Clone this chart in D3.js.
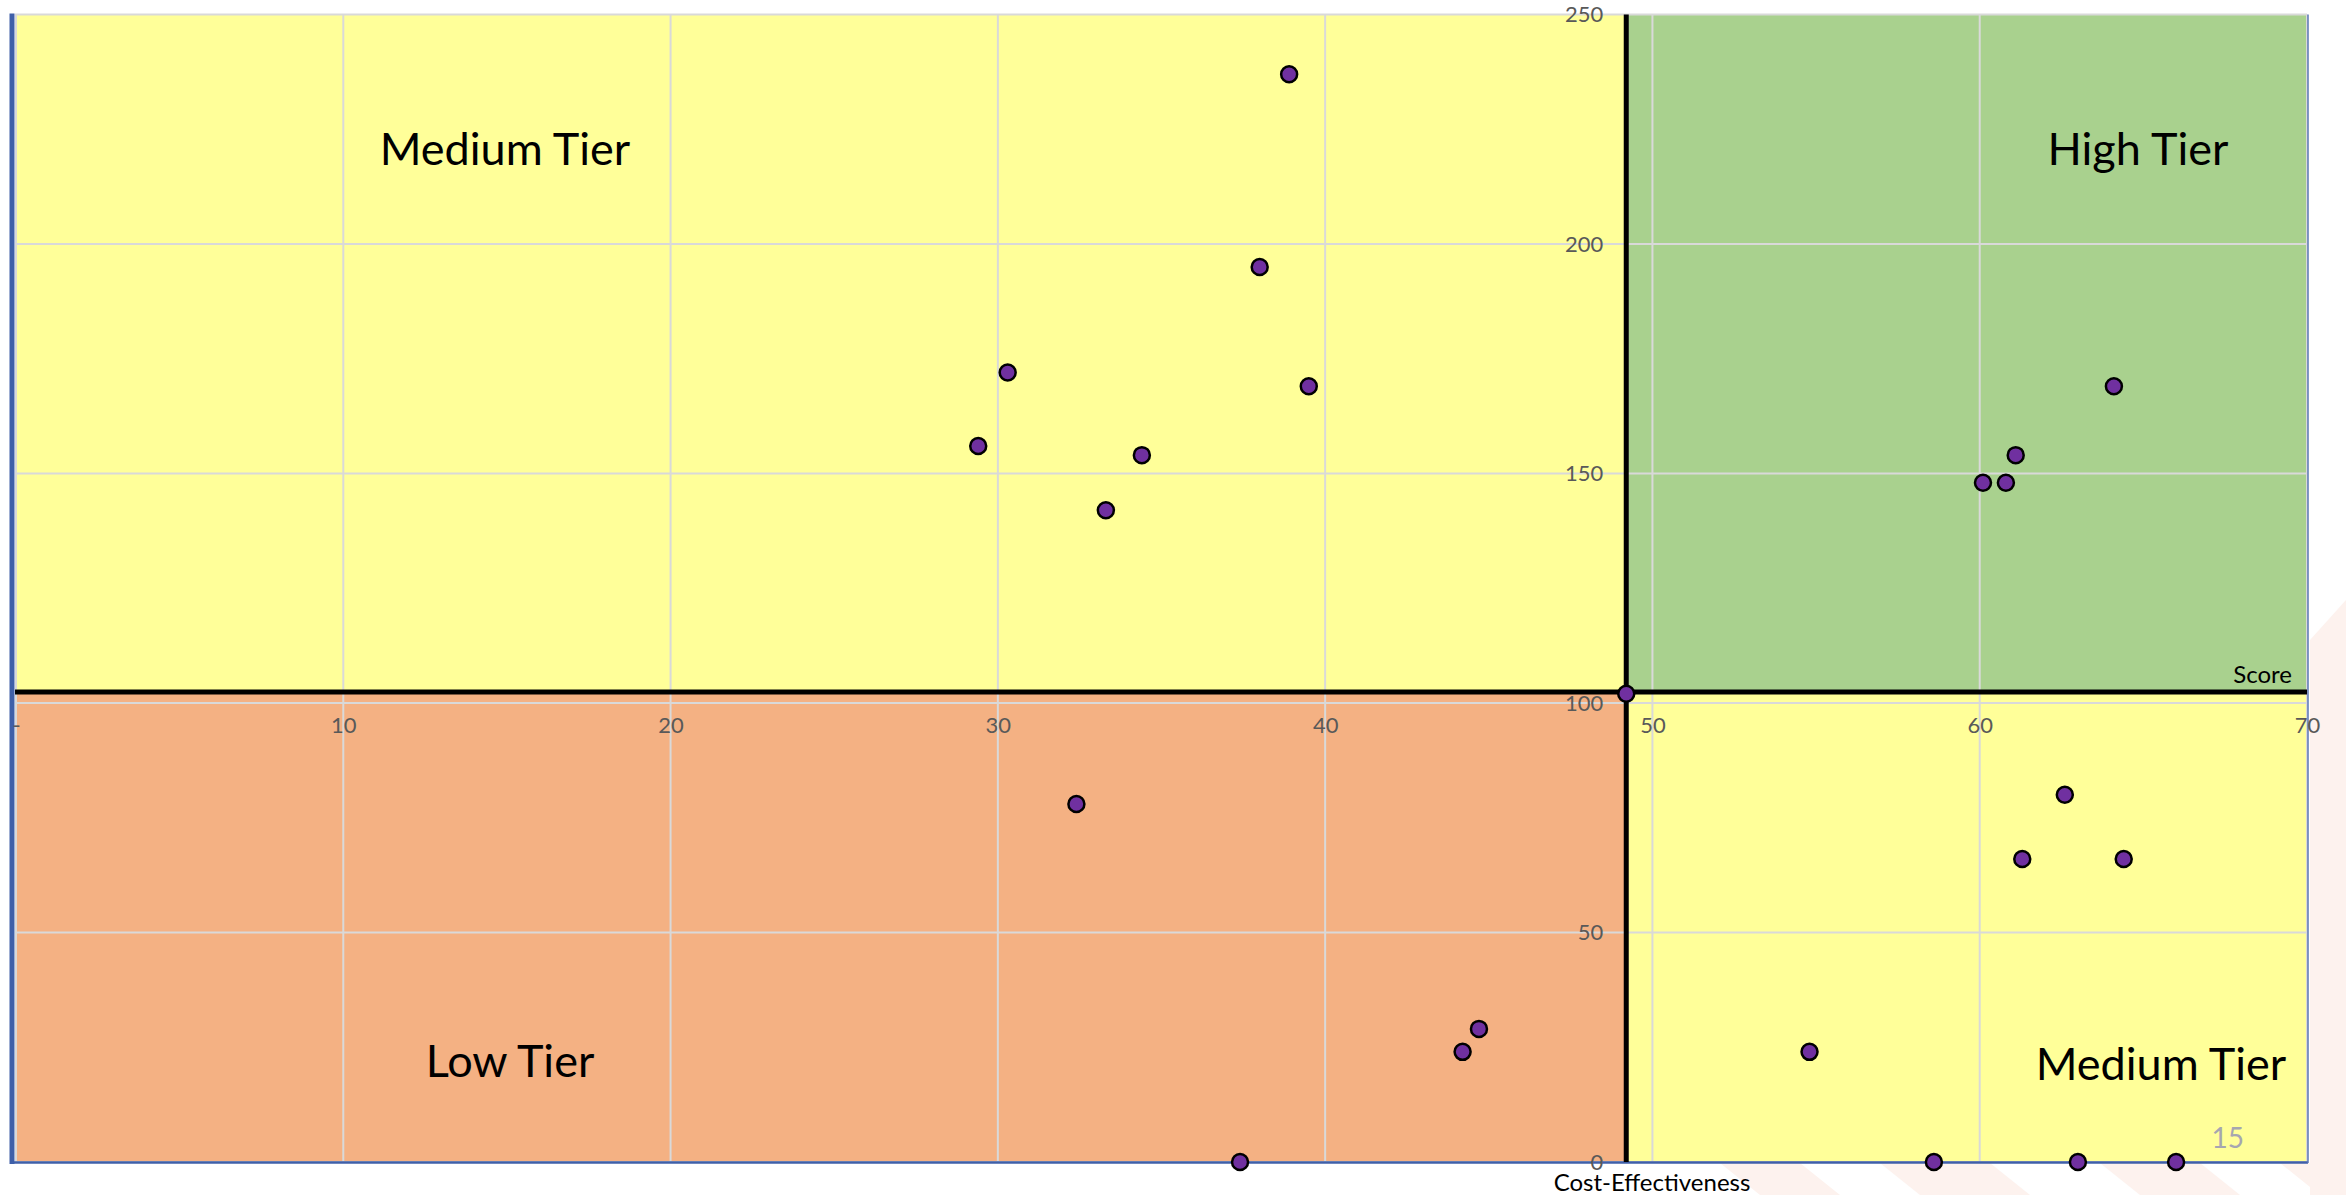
<!DOCTYPE html>
<html>
<head>
<meta charset="utf-8">
<script src="https://cdn.jsdelivr.net/npm/d3@7"></script>
<style>
  body { margin: 0; background: #fff; }
  svg { display: block; }
  .tick text { font-family: Lato, "Open Sans", sans-serif; fill: #595959; }
</style>
</head>
<body>
<div id="chart"></div>
<script>
// Data
var score = [38.9, 38.0, 30.3, 39.5, 29.4, 34.4, 33.3, 64.1, 61.1, 60.1, 60.8, 49.2,
             32.4, 44.7, 44.2, 37.4, 62.6, 61.3, 64.4, 54.8, 58.6, 63.0, 66.0];
var cost = [237, 195, 172, 169, 156, 154, 142, 169, 154, 148, 148, 102,
            78, 29, 24, 0, 80, 66, 66, 24, 0, 0, 0];
var xTicks = [0, 10, 20, 30, 40, 50, 60, 70];
var yTicks = [0, 50, 100, 150, 200, 250];
var xDivide = 49.2;
var yDivide = 102.4;
var tierNames = ["Medium Tier", "High Tier", "Low Tier", "Medium Tier"];

// Width and height
var w = 2346;
var h = 1195;

// Scale functions
var xScale = d3.scaleLinear()
  .domain([0, 70])
  .range([16, 2307]);

var yScale = d3.scaleLinear()
  .domain([0, 250])
  .range([1162, 14.5]);

var svg = d3.select("#chart")
  .append("svg")
  .attr("width", w)
  .attr("height", h);

svg.append("rect")
  .attr("width", w)
  .attr("height", h)
  .attr("fill", "#fff");

// faint slide decoration behind the chart (bottom right)
var deco = svg.append("g").attr("fill", "#fdf2ee");
[[1720, 1800], [1880, 1990], [2100, 2200], [2280, 2380]].forEach(function(s) {
  deco.append("path")
    .attr("d", "M" + s[0] + ",1163 L" + s[1] + ",1163 L" + (s[1] + 40) + ",1195 L" + (s[0] + 40) + ",1195 Z");
});
deco.append("path")
  .attr("d", "M2310,640 L2346,600 L2346,1195 L2310,1195 Z");

// Quadrant fills
var x0 = 15, x1 = xScale(70), yTop = yScale(250), yBot = yScale(0);
var xm = xScale(xDivide), ym = yScale(yDivide);
var quads = [
  {x: x0, y: yTop, w: xm - x0, h: ym - yTop, c: "#ffff99"},
  {x: xm, y: yTop, w: x1 - xm, h: ym - yTop, c: "#a9d18e"},
  {x: x0, y: ym, w: xm - x0, h: yBot - ym, c: "#f4b183"},
  {x: xm, y: ym, w: x1 - xm, h: yBot - ym, c: "#ffff99"}
];
svg.selectAll(".quad")
  .data(quads)
  .enter().append("rect")
  .attr("class", "quad")
  .attr("x", function(d) { return d.x; })
  .attr("y", function(d) { return d.y; })
  .attr("width", function(d) { return d.w; })
  .attr("height", function(d) { return d.h; })
  .attr("fill", function(d) { return d.c; });

// Gridlines
svg.append("g")
  .selectAll("line")
  .data(xTicks)
  .enter().append("line")
  .attr("x1", function(d) { return xScale(d); })
  .attr("x2", function(d) { return xScale(d); })
  .attr("y1", yTop)
  .attr("y2", yBot)
  .attr("stroke", "#d9d9d9")
  .attr("stroke-width", 2);

svg.append("g")
  .selectAll("line")
  .data(yTicks)
  .enter().append("line")
  .attr("x1", x0)
  .attr("x2", x1)
  .attr("y1", function(d) { return yScale(d); })
  .attr("y2", function(d) { return yScale(d); })
  .attr("stroke", "#d9d9d9")
  .attr("stroke-width", 2);

// Plot border
svg.append("line")
  .attr("x1", 12).attr("x2", 12)
  .attr("y1", yTop - 1).attr("y2", yBot + 2)
  .attr("stroke", "#3f5fa8").attr("stroke-width", 5);
svg.append("line")
  .attr("x1", 10).attr("x2", x1 + 1)
  .attr("y1", yBot + 0.5).attr("y2", yBot + 0.5)
  .attr("stroke", "#3f5fa8").attr("stroke-width", 2.5);
svg.append("line")
  .attr("x1", x1 + 1).attr("x2", x1 + 1)
  .attr("y1", yTop).attr("y2", yBot + 1)
  .attr("stroke", "#5b77b5").attr("stroke-width", 1.5);

// Axis lines (quadrant dividers)
svg.append("line")
  .attr("x1", x0).attr("x2", x1)
  .attr("y1", ym).attr("y2", ym)
  .attr("stroke", "#000").attr("stroke-width", 5);
svg.append("line")
  .attr("x1", xm).attr("x2", xm)
  .attr("y1", yTop).attr("y2", yBot)
  .attr("stroke", "#000").attr("stroke-width", 5);

// X axis labels
var xAxis = d3.axisBottom()
  .scale(xScale)
  .tickValues(xTicks)
  .tickSize(0)
  .tickPadding(25)
  .tickFormat(function(d) { return d === 0 ? "-" : d; });

svg.append("g")
  .attr("class", "axis")
  .attr("transform", "translate(0," + ym + ")")
  .style("font-size", "22px")
  .call(xAxis)
  .call(function(g) { g.select(".domain").remove(); });

// Y axis labels
var yAxis = d3.axisLeft()
  .scale(yScale)
  .tickValues(yTicks)
  .tickSize(0)
  .tickPadding(23);

svg.append("g")
  .attr("class", "axis")
  .attr("transform", "translate(" + xm + ",0)")
  .style("font-size", "22px")
  .call(yAxis)
  .call(function(g) { g.select(".domain").remove(); });

svg.selectAll(".axis text")
  .style("font-family", "Lato, 'Open Sans', sans-serif")
  .attr("fill", "#595959");

// Axis titles
svg.append("text")
  .attr("x", 2292)
  .attr("y", 683)
  .style("text-anchor", "end")
  .style("font", "24px Lato, sans-serif")
  .text("Score");

svg.append("text")
  .attr("x", 1652)
  .attr("y", 1191)
  .style("text-anchor", "middle")
  .style("font", "24px Lato, sans-serif")
  .text("Cost-Effectiveness");

// Tier labels
var tierPos = [[505, 165], [2138, 165], [510, 1077], [2161, 1080]];
svg.selectAll(".tier")
  .data(tierNames)
  .enter().append("text")
  .attr("class", "tier")
  .attr("x", function(d, i) { return tierPos[i][0]; })
  .attr("y", function(d, i) { return tierPos[i][1]; })
  .style("text-anchor", "middle")
  .style("font", "45px Lato, sans-serif")
  .attr("fill", "#000")
  .text(function(d) { return d; });

// Slide number
svg.append("text")
  .attr("x", 2244)
  .attr("y", 1148)
  .style("text-anchor", "end")
  .style("font", "28px Lato, sans-serif")
  .attr("fill", "#a6a6b0")
  .text("15");

// Points
svg.selectAll(".dot")
  .data(score)
  .enter().append("circle")
  .attr("class", "dot")
  .attr("cx", function(d) { return xScale(d); })
  .attr("cy", function(d, i) { return yScale(cost[i]); })
  .attr("r", 8)
  .attr("fill", "#7030a0")
  .attr("stroke", "#000")
  .attr("stroke-width", 2.5);
</script>
</body>
</html>
